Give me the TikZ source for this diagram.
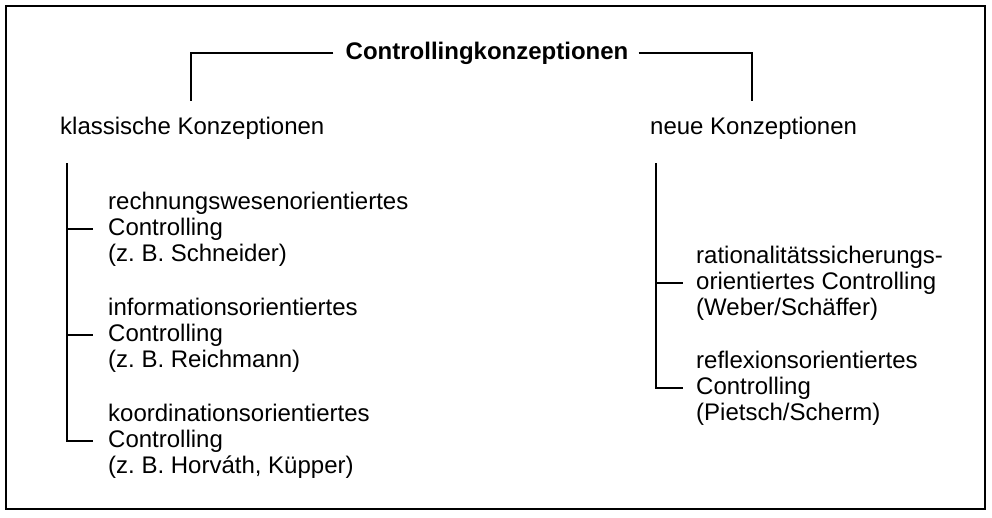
\documentclass[tikz,border=0pt]{standalone}
\usepackage{fontspec}
\setmainfont{Liberation Sans}
\begin{document}
\begin{tikzpicture}[x=1pt,y=-1pt,
  txt/.style={font=\fontsize{24}{26}\selectfont\frenchspacing, inner sep=0pt, anchor=west, align=left},
  ttl/.style={font=\fontsize{24}{26}\selectfont\bfseries, inner sep=0pt},
  ln/.style={line width=2.4pt},
  frm/.style={line width=2pt}]
\useasboundingbox (0,0) rectangle (992,517);
\draw[frm] (6,6) rectangle (985,509);
\node[ttl] (title) at (487,53) {Controllingkonzeptionen};
\coordinate (lb) at (191,101);
\coordinate (rb) at (752,101);
\draw[ln] ([xshift=-12pt]title.west) -| (lb);
\draw[ln] ([xshift=10pt]title.east) -| (rb);
\node[txt] (kl) at (60,128) {klassische Konzeptionen};
\node[txt] (ne) at (650,128) {neue Konzeptionen};
% left tree
\node[txt] (l1) at (108,229) {rechnungswesenorientiertes\\Controlling\\(z.\ B. Schneider)};
\node[txt] (l2) at (108,335) {informationsorientiertes\\Controlling\\(z.\ B. Reichmann)};
\node[txt] (l3) at (108,441) {koordinationsorientiertes\\Controlling\\(z.\ B. Horváth, Küpper)};
\coordinate (lt) at (67,163);
\draw[ln] (lt) |- ([xshift=-15pt]l3.west);
\draw[ln] (lt |- l1.west) -- ([xshift=-15pt]l1.west);
\draw[ln] (lt |- l2.west) -- ([xshift=-15pt]l2.west);
% right tree
\node[txt] (r1) at (696,283) {rationalitätssicherungs-\\orientiertes Controlling\\(Weber/Schäffer)};
\node[txt] (r2) at (696,388) {reflexionsorientiertes\\Controlling\\(Pietsch/Scherm)};
\coordinate (rt) at (656,163);
\draw[ln] (rt) |- ([xshift=-13pt]r2.west);
\draw[ln] (rt |- r1.west) -- ([xshift=-13pt]r1.west);
\end{tikzpicture}
\end{document}
